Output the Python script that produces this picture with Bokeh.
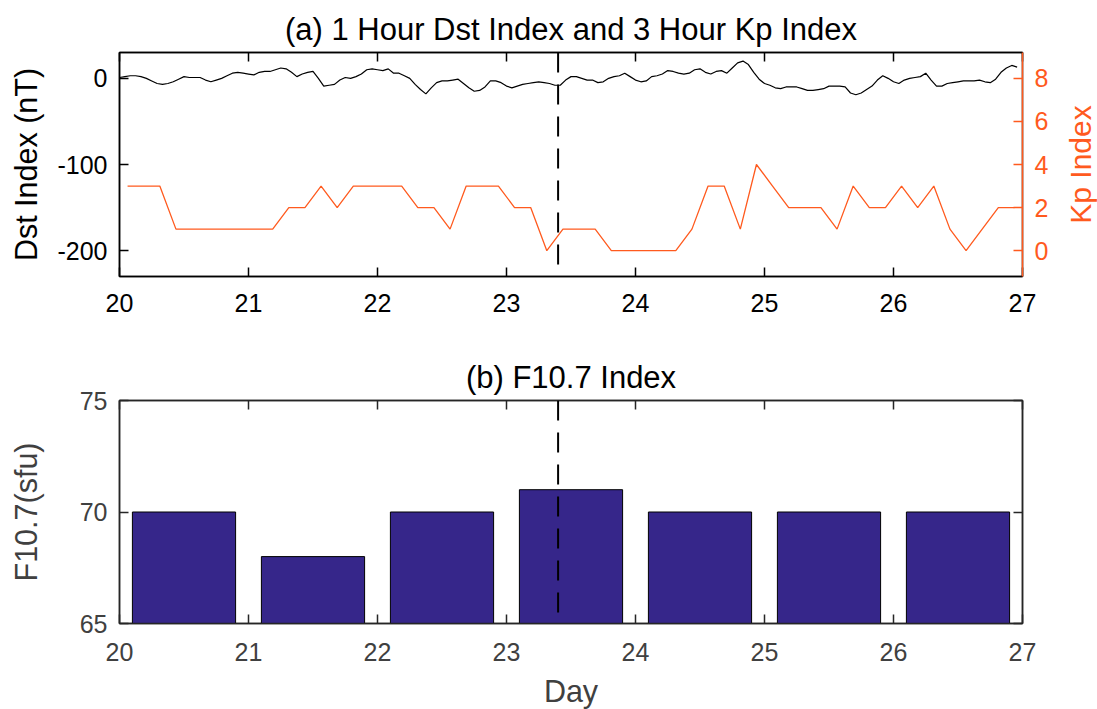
import math
import numpy as np
from bokeh.plotting import figure
from bokeh.models import Range1d, LinearAxis, FixedTicker, Span, CustomJSTickFormatter
from bokeh.core.properties import value
from bokeh.layouts import column, row
from bokeh.embed import file_html
from bokeh.resources import INLINE

# ---------------- data ----------------
start_day = 20
# hourly Dst (nT), days 20-26
dst = [1, 2, 3, 3, 2, 0, -3, -6, -7, -6, -4, -1, 2, 1, 1, 1, -2, -4, -2, 0, 3, 6, 7, 6,
       5, 4, 7, 8, 8, 10, 12, 11, 7, 2, 5, 7, 8, 0, -9, -8, -7, -2, 1, 0, 2, 5, 10, 11,
       10, 9, 11, 6, 6, 3, 0, -7, -13, -18, -11, -5, -3, -3, -2, -1, -6, -11, -15, -14, -10, -3, -3, -5,
       -9, -11, -9, -7, -6, -5, -4, -5, -6, -8, -8, -2, 2, 2, 0, -2, -2, -5, -4, 0, 2, 3, 6, 2,
       -2, -4, -3, 2, 3, 5, 9, 8, 6, 5, 6, 10, 11, 7, 5, 8, 9, 6, 12, 18, 20, 16, 7, -1,
       -6, -8, -11, -12, -10, -10, -10, -12, -14, -14, -13, -12, -9, -9, -9, -10, -17, -19, -17, -13, -9, -2, 3, 0,
       -4, -6, -2, 0, 1, 2, 6, -2, -9, -9, -6, -5, -4, -3, -3, -3, -2, -4, -5, -1, 7, 12, 15, 13]
# 3-hourly Kp
kp = [3, 3, 3, 1, 1, 1, 1, 1, 1, 1, 2, 2, 3, 2, 3, 3, 3, 3, 2, 2, 1, 3, 3, 3, 2, 2, 0, 1,
      1, 1, 0, 0, 0, 0, 0, 1, 3, 3, 1, 4, 3, 2, 2, 2, 1, 3, 2, 2, 3, 2, 3, 1, 0, 1, 2, 2]
f107_days = [20, 21, 22, 23, 24, 25, 26]
f107 = [70, 68, 70, 71, 70, 70, 70]
event_day = 23.4
x_ticks = [20, 21, 22, 23, 24, 25, 26, 27]
dst_ticks = [-200, -100, 0]
kp_ticks = [0, 2, 4, 6, 8]
f_ticks = [65, 70, 75]
kp_label = "Kp Index"

dst_t = start_day + np.arange(len(dst)) / 24.0
kp_t = start_day + (np.arange(len(kp)) * 3 + 1.5) / 24.0
bar_x = np.array(f107_days) + 0.5

FONT = "Liberation Sans"
ORANGE = "#FF5A1E"
DARK = "#262626"
GREY = "#404040"
PLAIN = CustomJSTickFormatter(code="return tick.toString();")


def style_axis(ax, color, label_color, standoff=12):
    ax.axis_line_color = color
    ax.axis_line_width = 1.5
    ax.major_tick_line_color = color
    ax.major_tick_line_width = 1.5
    ax.major_tick_in = 9
    ax.major_tick_out = 0
    ax.minor_tick_line_color = None
    ax.major_label_text_font = FONT
    ax.major_label_text_font_size = "25px"
    ax.major_label_text_color = label_color
    ax.major_label_standoff = standoff
    ax.axis_label_text_font = FONT
    ax.axis_label_text_font_size = "30.5px"
    ax.axis_label_text_font_style = "normal"
    ax.axis_label_text_color = label_color


def mirror_axis(ax, color):
    style_axis(ax, color, color, standoff=0)
    ax.formatter = CustomJSTickFormatter(code="return '';")
    ax.major_label_text_font_size = "10px"


def style_title(p):
    p.title.align = "center"
    p.title.text_font = FONT
    p.title.text_font_size = "31px"
    p.title.text_font_style = "normal"
    p.title.text_color = "black"
    p.title.standoff = 12


# ---------------- top panel ----------------
kp_range = Range1d(-1.2, 9.2)
p1 = figure(frame_width=903, frame_height=224, x_range=Range1d(20, 27), y_range=Range1d(-230, 30),
            output_backend="svg", toolbar_location=None,
            min_border_left=119, min_border_top=52, min_border_bottom=75, min_border_right=40,
            title="(a) 1 Hour Dst Index and 3 Hour Kp Index")
style_title(p1)
p1.xgrid.visible = False
p1.ygrid.visible = False
p1.outline_line_color = "black"
p1.outline_line_width = 1.5

p1.extra_y_ranges = {"kp": kp_range}

p1.xaxis.ticker = FixedTicker(ticks=x_ticks)
p1.yaxis.ticker = FixedTicker(ticks=dst_ticks)
p1.yaxis.formatter = PLAIN
p1.yaxis.axis_label = "Dst Index (nT)"
for ax in p1.xaxis + p1.yaxis:
    style_axis(ax, "black", "black")
p1.xaxis.major_label_standoff = 17
p1.yaxis.axis_label_standoff = 11

top1 = LinearAxis(ticker=FixedTicker(ticks=x_ticks))
mirror_axis(top1, "black")
p1.add_layout(top1, "above")

kp_axis = LinearAxis(y_range_name="kp", ticker=FixedTicker(ticks=kp_ticks))
style_axis(kp_axis, ORANGE, ORANGE)
p1.add_layout(kp_axis, "right")

p1.line(dst_t, dst, line_color="black", line_width=1.2)
p1.line(kp_t, kp, line_color=ORANGE, line_width=1.3, y_range_name="kp")
p1.add_layout(Span(location=event_day, dimension="height", line_color="black",
                   line_width=2, line_dash="20 12"))

# narrow strip holding the right-hand axis title (reads bottom to top)
pk = figure(frame_width=35, frame_height=224, x_range=Range1d(0, 1), y_range=kp_range,
            output_backend="svg", toolbar_location=None,
            min_border_left=0, min_border_right=0, min_border_top=52, min_border_bottom=75)
pk.axis.visible = False
pk.grid.visible = False
pk.outline_line_color = None
pk.text(x=[0.5], y=[4], text=[kp_label], angle=math.pi / 2, text_align="center",
        text_baseline="middle", text_font=value(FONT), text_font_size="30px",
        text_color=ORANGE)

# ---------------- bottom panel ----------------
p2 = figure(frame_width=903, frame_height=223, x_range=Range1d(20, 27), y_range=Range1d(65, 75),
            output_backend="svg", toolbar_location=None,
            min_border_left=119, min_border_top=49, min_border_bottom=85, min_border_right=72,
            title="(b) F10.7 Index")
style_title(p2)
p2.xgrid.visible = False
p2.ygrid.visible = False
p2.outline_line_color = DARK
p2.outline_line_width = 1.5

p2.xaxis.ticker = FixedTicker(ticks=x_ticks)
p2.yaxis.ticker = FixedTicker(ticks=f_ticks)
p2.xaxis.axis_label = "Day"
p2.yaxis.axis_label = "F10.7(sfu)"
for ax in p2.xaxis + p2.yaxis:
    style_axis(ax, DARK, GREY)
p2.xaxis.major_label_standoff = 19
p2.xaxis.axis_label_standoff = 10
p2.yaxis.axis_label_standoff = 34

top2 = LinearAxis(ticker=FixedTicker(ticks=x_ticks))
mirror_axis(top2, DARK)
p2.add_layout(top2, "above")
right2 = LinearAxis(ticker=FixedTicker(ticks=f_ticks))
mirror_axis(right2, DARK)
p2.add_layout(right2, "right")

p2.vbar(x=bar_x, top=f107, bottom=65, width=0.8, fill_color="#36268A",
        line_color="black", line_width=1)
p2.add_layout(Span(location=event_day, dimension="height", line_color="black",
                   line_width=2, line_dash="20 12"))

layout = column(row(p1, pk, spacing=0), p2, spacing=0)
open("out.html", "w").write(file_html(layout, INLINE))
